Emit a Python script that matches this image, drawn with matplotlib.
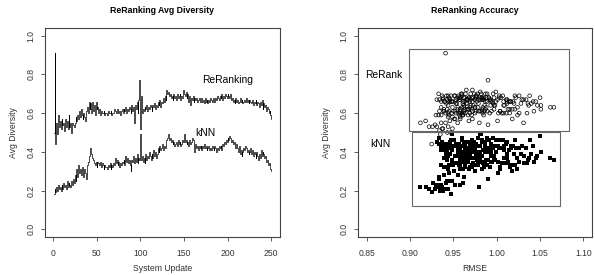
import matplotlib
matplotlib.use("Agg")
import matplotlib.pyplot as plt
from matplotlib.patches import Rectangle
import numpy as np

plt.rcParams['font.family'] = ['Liberation Sans', 'DejaVu Sans']

rerank_div = [
    0.50, 0.91, 0.44, 0.55, 0.49, 0.59, 0.53, 0.56, 0.52, 0.57,
    0.54, 0.55, 0.51, 0.57, 0.53, 0.56, 0.52, 0.59, 0.53, 0.55,
    0.50, 0.55, 0.54, 0.53, 0.55, 0.58, 0.56, 0.59, 0.57, 0.61,
    0.58, 0.62, 0.59, 0.57, 0.60, 0.58, 0.56, 0.61, 0.63, 0.60,
    0.66, 0.62, 0.65, 0.60, 0.66, 0.61, 0.64, 0.59, 0.66, 0.62,
    0.63, 0.60, 0.62, 0.59, 0.61, 0.60, 0.60, 0.61, 0.59, 0.60,
    0.60, 0.59, 0.61, 0.60, 0.60, 0.61, 0.59, 0.60, 0.60, 0.62,
    0.61, 0.60, 0.62, 0.61, 0.60, 0.61, 0.59, 0.61, 0.62, 0.60,
    0.62, 0.61, 0.63, 0.60, 0.62, 0.61, 0.63, 0.62, 0.60, 0.64,
    0.61, 0.63, 0.55, 0.64, 0.62, 0.66, 0.60, 0.67, 0.77, 0.52,
    0.69, 0.60, 0.62, 0.61, 0.63, 0.62, 0.64, 0.61, 0.63, 0.62,
    0.64, 0.63, 0.61, 0.64, 0.63, 0.65, 0.62, 0.64, 0.63, 0.66,
    0.64, 0.67, 0.63, 0.66, 0.65, 0.68, 0.66, 0.69, 0.67, 0.72,
    0.70, 0.71, 0.69, 0.70, 0.68, 0.69, 0.67, 0.70, 0.68, 0.69,
    0.67, 0.70, 0.68, 0.69, 0.70, 0.67, 0.69, 0.68, 0.72, 0.70,
    0.69, 0.71, 0.68, 0.70, 0.66, 0.69, 0.64, 0.68, 0.67, 0.69,
    0.66, 0.68, 0.67, 0.68, 0.66, 0.67, 0.68, 0.66, 0.67, 0.68,
    0.66, 0.67, 0.65, 0.68, 0.66, 0.67, 0.65, 0.67, 0.66, 0.68,
    0.67, 0.66, 0.68, 0.67, 0.66, 0.68, 0.67, 0.69, 0.68, 0.67,
    0.69, 0.68, 0.70, 0.67, 0.69, 0.68, 0.70, 0.69, 0.68, 0.70,
    0.69, 0.68, 0.70, 0.67, 0.68, 0.66, 0.67, 0.65, 0.68, 0.66,
    0.67, 0.65, 0.66, 0.68, 0.66, 0.67, 0.65, 0.66, 0.67, 0.66,
    0.68, 0.66, 0.67, 0.65, 0.67, 0.66, 0.65, 0.67, 0.64, 0.66,
    0.65, 0.67, 0.64, 0.66, 0.65, 0.63, 0.66, 0.64, 0.67, 0.62,
    0.65, 0.63, 0.64, 0.61, 0.63, 0.62, 0.60, 0.61, 0.59, 0.57,
]

knn_div = [
    0.18, 0.21, 0.19, 0.22, 0.20, 0.23, 0.21, 0.22, 0.20, 0.23,
    0.21, 0.24, 0.22, 0.23, 0.21, 0.25, 0.22, 0.24, 0.23, 0.22,
    0.25, 0.23, 0.26, 0.24, 0.28, 0.25, 0.31, 0.27, 0.33, 0.29,
    0.31, 0.28, 0.32, 0.30, 0.27, 0.31, 0.29, 0.26, 0.33, 0.35,
    0.38, 0.40, 0.42, 0.39, 0.37, 0.36, 0.34, 0.33, 0.35, 0.32,
    0.35, 0.34, 0.33, 0.35, 0.32, 0.34, 0.33, 0.31, 0.33, 0.32,
    0.32, 0.31, 0.33, 0.32, 0.34, 0.31, 0.33, 0.32, 0.34, 0.33,
    0.37, 0.34, 0.36, 0.33, 0.35, 0.32, 0.34, 0.33, 0.35, 0.34,
    0.36, 0.33, 0.38, 0.35, 0.37, 0.34, 0.36, 0.33, 0.30, 0.36,
    0.35, 0.38, 0.34, 0.37, 0.35, 0.39, 0.34, 0.37, 0.36, 0.49,
    0.36, 0.38, 0.35, 0.37, 0.34, 0.39, 0.36, 0.38, 0.37, 0.40,
    0.38, 0.36, 0.39, 0.37, 0.41, 0.38, 0.40, 0.37, 0.39, 0.42,
    0.40, 0.43, 0.41, 0.42, 0.44, 0.41, 0.43, 0.42, 0.45, 0.46,
    0.47, 0.49, 0.46, 0.47, 0.45, 0.46, 0.44, 0.45, 0.43, 0.44,
    0.45, 0.43, 0.46, 0.44, 0.45, 0.43, 0.44, 0.46, 0.45, 0.49,
    0.45, 0.46, 0.44, 0.45, 0.43, 0.46, 0.44, 0.45, 0.47, 0.46,
    0.43, 0.40, 0.44, 0.42, 0.43, 0.41, 0.43, 0.42, 0.43, 0.41,
    0.43, 0.42, 0.44, 0.42, 0.43, 0.41, 0.42, 0.43, 0.41, 0.42,
    0.41, 0.43, 0.42, 0.41, 0.43, 0.42, 0.40, 0.42, 0.41, 0.43,
    0.42, 0.43, 0.41, 0.44, 0.43, 0.45, 0.44, 0.46, 0.45, 0.47,
    0.46, 0.48, 0.47, 0.45, 0.46, 0.44, 0.45, 0.43, 0.42, 0.44,
    0.42, 0.40, 0.43, 0.39, 0.41, 0.38, 0.40, 0.42, 0.41, 0.43,
    0.42, 0.40, 0.41, 0.39, 0.40, 0.42, 0.39, 0.41, 0.38, 0.40,
    0.39, 0.37, 0.40, 0.38, 0.36, 0.39, 0.37, 0.41, 0.38, 0.40,
    0.39, 0.37, 0.38, 0.35, 0.36, 0.33, 0.34, 0.32, 0.31, 0.30,
]

rmse = [
    0.947, 0.941, 0.925, 0.912, 0.935, 0.930, 0.944, 0.918, 0.938, 0.952,
    0.929, 0.941, 0.934, 0.958, 0.922, 0.946, 0.937, 0.961, 0.931, 0.980,
    0.943, 0.936, 0.990, 0.926, 0.955, 0.949, 0.968, 0.933, 0.972, 0.945,
    0.958, 0.939, 0.985, 0.951, 0.962, 0.944, 1.001, 0.934, 0.975, 0.960,
    0.952, 0.987, 0.966, 0.941, 1.012, 0.958, 0.973, 0.936, 0.995, 0.963,
    0.978, 0.948, 1.021, 0.967, 0.939, 0.984, 0.956, 1.004, 0.971, 0.944,
    0.992, 0.961, 0.976, 1.015, 0.953, 0.983, 0.945, 0.969, 1.008, 0.958,
    0.981, 0.964, 0.997, 0.950, 1.026, 0.972, 0.957, 0.989, 0.966, 1.011,
    0.943, 0.979, 0.960, 1.002, 0.968, 0.986, 0.949, 1.018, 0.975, 0.962,
    0.994, 0.955, 1.031, 0.970, 0.983, 0.946, 1.006, 0.965, 0.990, 0.949,
    0.977, 0.958, 1.013, 0.939, 0.984, 0.967, 0.998, 0.952, 1.024, 0.971,
    0.944, 0.988, 0.962, 1.009, 0.936, 0.979, 0.955, 1.037, 0.969, 0.948,
    0.993, 0.958, 0.975, 1.016, 0.942, 0.985, 0.963, 1.003, 0.931, 0.972,
    0.960, 0.981, 0.947, 0.996, 0.968, 1.021, 0.953, 0.987, 0.938, 0.976,
    1.012, 0.959, 0.983, 0.944, 0.970, 1.029, 0.956, 0.991, 0.965, 0.982,
    0.937, 0.999, 0.962, 0.974, 1.042, 0.951, 0.986, 0.968, 0.934, 1.007,
    0.977, 0.957, 0.993, 0.945, 1.019, 0.966, 0.981, 0.940, 1.001, 0.963,
    0.972, 1.034, 0.953, 0.988, 0.961, 0.943, 0.996, 0.975, 1.014, 0.958,
    0.984, 0.949, 1.005, 0.967, 0.936, 0.991, 0.979, 1.026, 0.955, 0.970,
    0.942, 0.997, 0.964, 1.011, 0.952, 0.983, 0.933, 1.038, 0.973, 0.989,
    0.960, 1.050, 0.978, 0.946, 1.003, 0.969, 0.985, 0.954, 1.022, 0.940,
    0.992, 0.965, 1.008, 0.976, 0.948, 1.031, 0.961, 0.987, 0.938, 1.016,
    0.971, 0.999, 0.957, 1.040, 0.981, 0.944, 1.012, 0.966, 1.047, 0.989,
    1.020, 0.975, 1.051, 0.993, 1.036, 0.962, 1.045, 1.008, 0.983, 1.051,
    1.028, 1.062, 0.997, 1.043, 1.066, 1.015, 1.035, 1.004, 1.024, 1.018,
]

updates = np.arange(1, len(rerank_div) + 1)

# bounding boxes drawn on the accuracy panel: (x0, x1, y0, y1)
rerank_box = [0.899, 1.084, 0.508, 0.933]
knn_box = [0.902, 1.073, 0.118, 0.503]

left_xticks = [0, 50, 100, 150, 200, 250]
right_xticks = [0.85, 0.90, 0.95, 1.00, 1.05, 1.10]
yticks = [0.0, 0.2, 0.4, 0.6, 0.8, 1.0]

W, H = 595, 275
fig = plt.figure(figsize=(W / 100, H / 100), dpi=100)
fig.patch.set_facecolor('white')

ax1 = fig.add_axes([45 / W, 1 - 237 / H, 235 / W, 209 / H])
ax2 = fig.add_axes([358 / W, 1 - 237 / H, 234 / W, 209 / H])

frame_col = '#444444'
tick_fs = 6.2
lab_fs = 6.2

def style(ax):
    for s in ax.spines.values():
        s.set_color(frame_col)
        s.set_linewidth(0.8)
    ax.tick_params(axis='both', direction='out', length=3, width=0.6,
                   colors=frame_col, labelsize=tick_fs, labelcolor='#333333')
    ax.tick_params(axis='x', pad=6)
    ax.tick_params(axis='y', pad=4)
    ax.set_yticks(yticks)
    ax.set_yticklabels([f"{v:.1f}" for v in yticks], rotation=90, va='center')
    ax.set_ylim(-0.04, 1.04)

# left panel
ax1.step(updates, rerank_div, where='post', color='black', lw=0.5)
ax1.step(updates, knn_div, where='post', color='black', lw=0.5)
ax1.set_xlim(-9, 260)
ax1.set_xticks(left_xticks)
ax1.set_xticklabels([str(v) for v in left_xticks])
style(ax1)
ax1.set_xlabel('System Update', fontsize=lab_fs, color='#333333', labelpad=4)
ax1.set_ylabel('Avg Diversity', fontsize=lab_fs, color='#333333', labelpad=6)
ax1.set_title('ReRanking Avg Diversity', fontsize=6.3, fontweight='bold', pad=11)
ax1.text(200, 0.77, 'ReRanking', fontsize=7.4, ha='center', va='center')
ax1.text(175, 0.50, 'kNN', fontsize=7.4, ha='center', va='center')

# right panel
ax2.scatter(rmse, rerank_div, s=7, facecolors='none', edgecolors='black',
            linewidths=0.5, marker='o')
ax2.scatter(rmse, knn_div, s=6, color='black', marker='s', linewidths=0)
for box in (rerank_box, knn_box):
    ax2.add_patch(Rectangle((box[0], box[2]), box[1] - box[0], box[3] - box[2],
                            fill=False, edgecolor='#666666', lw=0.8))
ax2.set_xlim(0.84, 1.11)
ax2.set_xticks(right_xticks)
ax2.set_xticklabels([f"{v:.2f}" for v in right_xticks])
style(ax2)
ax2.set_xlabel('RMSE', fontsize=lab_fs, color='#333333', labelpad=4)
ax2.set_ylabel('Avg Diversity', fontsize=lab_fs, color='#333333', labelpad=6)
ax2.set_title('ReRanking Accuracy', fontsize=6.3, fontweight='bold', pad=11)
ax2.text(0.870, 0.795, 'ReRank', fontsize=7.4, ha='center', va='center')
ax2.text(0.866, 0.44, 'kNN', fontsize=7.4, ha='center', va='center')

fig.savefig('out.png', dpi=100, facecolor='white')
